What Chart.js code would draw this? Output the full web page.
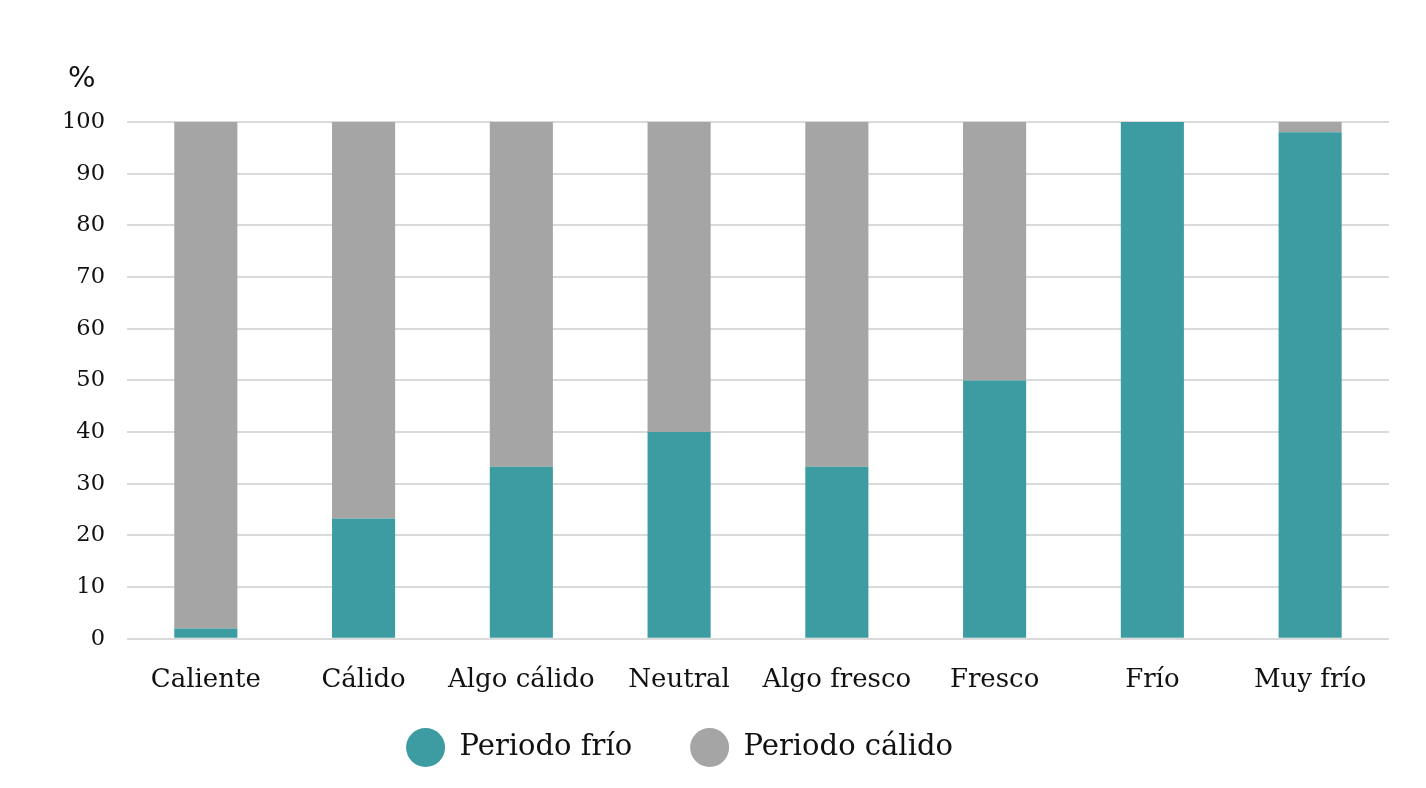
<!DOCTYPE html>
<html>
<head>
<meta charset="utf-8">
<script src="https://cdn.jsdelivr.net/npm/chart.js@4"></script>
<style>
html,body{margin:0;padding:0;background:#fff;}
#wrap{width:1426px;height:788px;position:relative;}
</style>
</head>
<body>
<div id="wrap"><canvas id="c"></canvas></div>
<script>
const categories = ["Caliente","Cálido","Algo cálido","Neutral","Algo fresco","Fresco","Frío","Muy frío"];
const periodoFrio = [2, 23.3, 33.3, 40, 33.3, 50, 100, 98];
const periodoCalido = [98, 76.7, 66.7, 60, 66.7, 50, 0, 2];
const seriesNames = ["Periodo frío","Periodo cálido"];
const yUnit = "%";

const serif = "'DejaVu Serif', serif";

const unitPlugin = {
  id: 'unitLabel',
  afterLayout(chart) {
    const lg = chart.legend;
    if (lg) {
      lg.left -= 35; lg.right -= 35;
      lg.top -= 39; lg.bottom -= 39;
    }
  },
  afterDraw(chart) {
    const ctx = chart.ctx;
    ctx.save();
    ctx.font = "29px 'DejaVu Sans', sans-serif";
    ctx.fillStyle = '#111';
    ctx.textAlign = 'left';
    ctx.textBaseline = 'middle';
    ctx.fillText(yUnit, chart.chartArea.left - 59, chart.chartArea.top - 43);
    ctx.restore();
  }
};

new Chart(document.getElementById('c'), {
  type: 'bar',
  data: {
    labels: categories,
    datasets: [
      {label: seriesNames[0], data: periodoFrio, backgroundColor: '#3d9ca1', barPercentage: 0.4, categoryPercentage: 1.0},
      {label: seriesNames[1], data: periodoCalido, backgroundColor: '#a5a5a5', barPercentage: 0.4, categoryPercentage: 1.0}
    ]
  },
  options: {
    responsive: true,
    maintainAspectRatio: false,
    animation: false,
    layout: {padding: {top: 122, left: 40, right: 37, bottom: -23}},
    plugins: {
      legend: {
        position: 'bottom',
        labels: {
          usePointStyle: true,
          pointStyle: 'circle',
          boxHeight: 27.6,
          pointStyleWidth: 39,
          padding: 58,
          color: '#111',
          font: {family: serif, size: 29}
        }
      },
      tooltip: {enabled: false},
      title: {display: false}
    },
    scales: {
      x: {
        stacked: true,
        grid: {display: false},
        border: {display: false},
        ticks: {color: '#111', font: {family: serif, size: 26}, padding: 18, maxRotation: 0}
      },
      y: {
        stacked: true,
        min: 0, max: 100,
        grid: {color: '#dadada', lineWidth: 2, drawTicks: false},
        border: {display: false},
        ticks: {stepSize: 10, color: '#111', font: {family: serif, size: 22.5}, padding: 22}
      }
    }
  },
  plugins: [unitPlugin]
});
</script>
</body>
</html>
